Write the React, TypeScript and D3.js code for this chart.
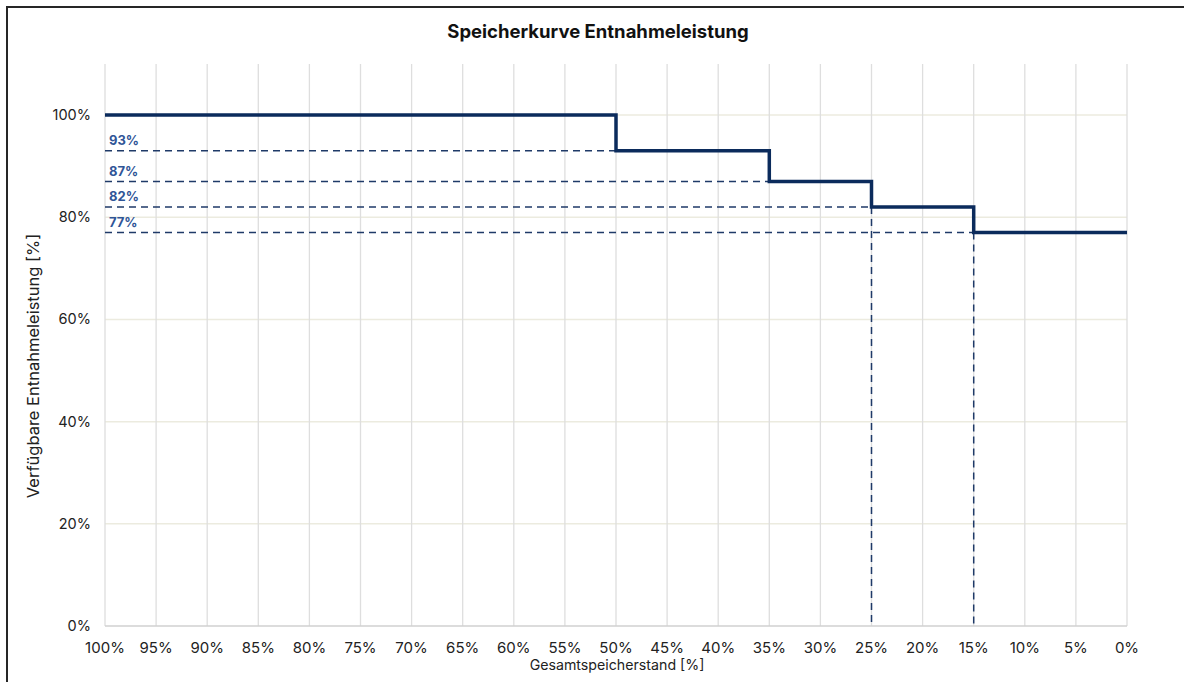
import React from 'react';
import * as d3 from 'd3';

const xTicks = [100, 95, 90, 85, 80, 75, 70, 65, 60, 55, 50, 45, 40, 35, 30, 25, 20, 15, 10, 5, 0];
const yTicks = [0, 20, 40, 60, 80, 100];

// Stufen der Speicherkurve: ab Speicherstand "from" gilt Leistung "value"
const stepFrom = [100, 50, 35, 25, 15];
const stepTo = [50, 35, 25, 15, 0];
const stepValue = [100, 93, 87, 82, 77];

// gestrichelte Hilfslinien
const guideValue = [93, 87, 82, 77];
const guideEnd = [50, 35, 25, 15];
const guideLabel = ['93%', '87%', '82%', '77%'];
const dropX = [25, 15];
const dropValue = [82, 77];

const W = 1184;
const H = 682;
const font = 'Inter, "Liberation Sans", sans-serif';
const navy = '#0b2b5c';

const App = () => {
  const x = d3.scaleLinear().domain([100, 0]).range([105, 1127]);
  const y = d3.scaleLinear().domain([0, 110]).range([626, 64]);

  const pts: [number, number][] = [];
  stepFrom.forEach((f, i) => {
    pts.push([f, stepValue[i]]);
    pts.push([stepTo[i], stepValue[i]]);
  });
  const line = d3.line<[number, number]>().x((d) => x(d[0])).y((d) => y(d[1]));

  return (
    <svg width={W} height={H} style={{ position: 'absolute', left: 0, top: 0, background: '#fff' }} fontFamily={font}>
      <path d={`M7,${H} V7 H${W}`} fill="none" stroke="#262626" strokeWidth={2} />
      <text x={598} y={38} textAnchor="middle" fontSize={18.5} fontWeight="bold" fill="#111">
        Speicherkurve Entnahmeleistung
      </text>

      {yTicks.filter((t) => t > 0).map((t) => (
        <line key={'h' + t} x1={x(100)} x2={x(0)} y1={y(t)} y2={y(t)} stroke="#ecebdf" strokeWidth={1.5} />
      ))}
      {xTicks.map((t) => (
        <line key={'v' + t} x1={x(t)} x2={x(t)} y1={y(110)} y2={y(0)} stroke="#dedede" strokeWidth={1.3} />
      ))}
      <line x1={x(100)} x2={x(0)} y1={y(0)} y2={y(0)} stroke="#d0d0d0" strokeWidth={1.5} />

      {yTicks.map((t) => (
        <text key={'yl' + t} x={91} y={y(t) + 5} textAnchor="end" fontSize={14.5} fill="#222">
          {t}%
        </text>
      ))}
      {xTicks.map((t) => (
        <text key={'xl' + t} x={x(t)} y={653} textAnchor="middle" fontSize={15} fill="#222">
          {t}%
        </text>
      ))}
      <text x={617} y={670} textAnchor="middle" fontSize={14.2} fill="#222">
        Gesamtspeicherstand [%]
      </text>
      <text transform={`translate(39,366) rotate(-90)`} textAnchor="middle" fontSize={16.5} fill="#222">
        Verfügbare Entnahmeleistung [%]
      </text>

      {guideValue.map((v, i) => (
        <g key={'g' + v}>
          <line x1={x(100)} x2={x(guideEnd[i])} y1={y(v)} y2={y(v)} stroke="#1f3a68" strokeWidth={1.5} strokeDasharray="7,5" />
          <text x={109} y={y(v) - 6} fontSize={13} fontWeight="bold" fill="#2f5597">
            {guideLabel[i]}
          </text>
        </g>
      ))}
      {dropX.map((d, i) => (
        <line key={'d' + d} x1={x(d)} x2={x(d)} y1={y(dropValue[i])} y2={y(0)} stroke="#1f3a68" strokeWidth={1.5} strokeDasharray="7,5" />
      ))}

      <path d={line(pts) ?? ''} fill="none" stroke={navy} strokeWidth={3.5} />
    </svg>
  );
};

export default App;
